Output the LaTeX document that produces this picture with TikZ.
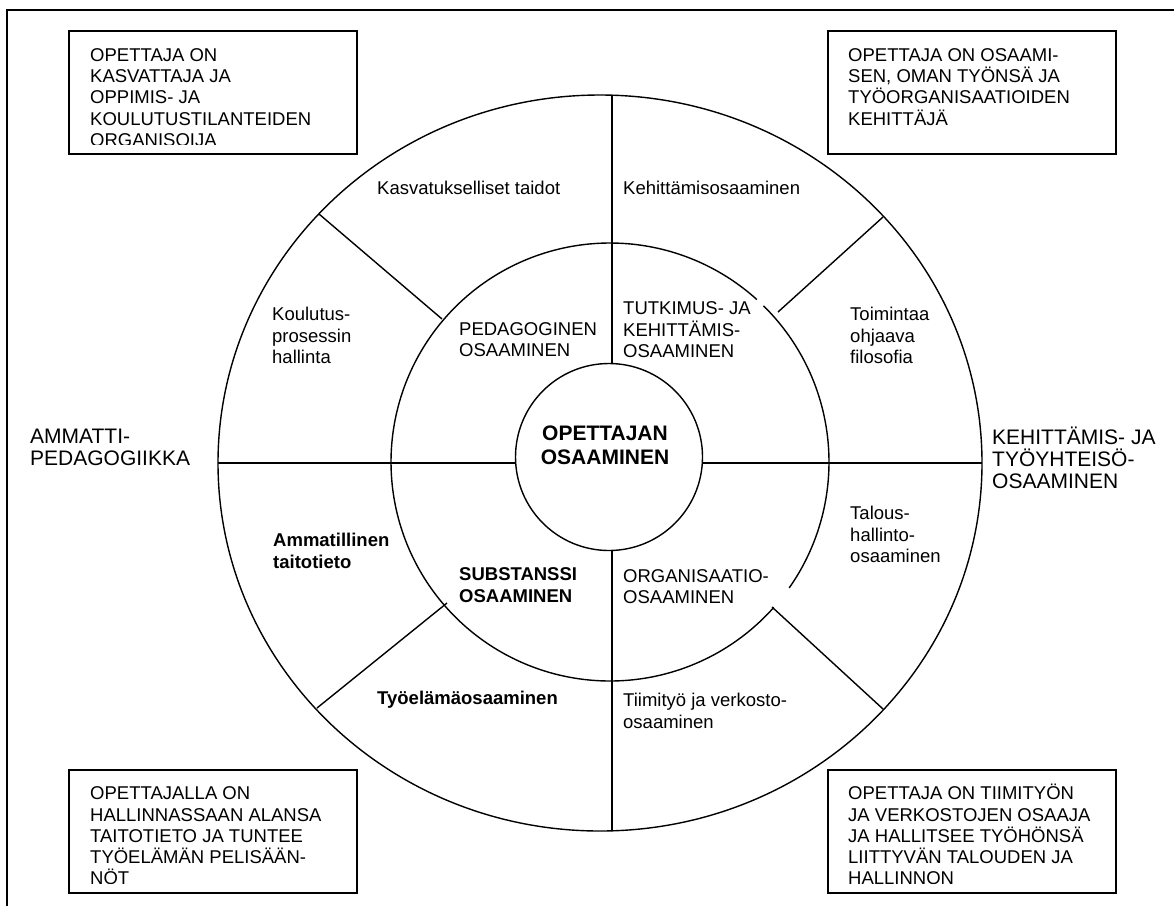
\documentclass[tikz,border=0pt]{standalone}
\usepackage{fontspec}
\setmainfont{Liberation Sans}
\begin{document}
\begin{tikzpicture}[x=1pt,y=-1pt]
\tikzset{
  ring/.style={line width=1.4pt},
  frameline/.style={line width=2pt},
  infobox/.style={draw, line width=2pt, minimum width=288pt, minimum height=123pt, inner sep=0pt},
  txt/.style={anchor=north west, inner sep=0pt, align=left, font=\fontsize{18.5}{21.3}\selectfont},
  btxt/.style={txt, font=\fontsize{18.5}{21.3}\selectfont\bfseries},
  sidetxt/.style={txt, font=\fontsize{21}{22.2}\selectfont},
}
\newcommand\firstline{\rule{0pt}{20pt}}
\useasboundingbox (0,0) rectangle (1174,906);
% page frame (top and left edges)
\draw[frameline] (1174,10) -- (7,10) -- (7,906);

% corner boxes
\node[infobox] (boxtl) at (213,92.5) {};
\node[infobox] (boxtr) at (971.5,92.5) {};
\node[infobox] (boxbl) at (213,831) {};
\node[infobox] (boxbr) at (971.5,831) {};
\begin{scope}
  \clip (69,31) rectangle (357,144);
  \node[txt] (ttl) at (90,40.9) {\firstline OPETTAJA ON\\KASVATTAJA JA\\OPPIMIS- JA\\KOULUTUSTILANTEIDEN\\ORGANISOIJA};
\end{scope}
\begin{scope}
  \clip (828,31) rectangle (1115,144);
  \node[txt] (ttr) at (848,40.9) {\firstline OPETTAJA ON OSAAMI-\\SEN, OMAN TYÖNSÄ JA\\TYÖORGANISAATIOIDEN\\KEHITTÄJÄ};
\end{scope}
\begin{scope}
  \clip (69,769) rectangle (357,883);
  \node[txt] (tbl) at (90,779.5) {\firstline OPETTAJALLA ON\\HALLINNASSAAN ALANSA\\TAITOTIETO JA TUNTEE\\TYÖELÄMÄN PELISÄÄN-\\NÖT};
\end{scope}
\begin{scope}
  \clip (828,769) rectangle (1115,883);
  \node[txt] (tbr) at (848,779.5) {\firstline OPETTAJA ON TIIMITYÖN\\JA VERKOSTOJEN OSAAJA\\JA HALLITSEE TYÖHÖNSÄ\\LIITTYVÄN TALOUDEN JA\\HALLINNON};
\end{scope}

% outer ring
\draw[ring] (600,463) ellipse [x radius=382, y radius=368];
% middle ring, drawn in two arcs with small openings
\draw[ring] plot[domain=-45.5:35.1, samples=80] ({610+219*cos(\x)},{462+219*sin(\x)});
\draw[ring] plot[domain=41.6:312.1, samples=240] ({610+219*cos(\x)},{462+219*sin(\x)});
% core circle
\node[circle, draw, ring, minimum size=187pt, inner sep=0pt] (core) at (609,457) {};

% spokes
\coordinate (vtop) at (612,95);
\coordinate (vbot) at (612,831);
\coordinate (hl) at (218,463);
\coordinate (hr) at (982,463);
\draw[ring] (vtop) -- (core.north -| vtop);
\draw[ring] (core.south -| vbot) -- (vbot);
\draw[ring] (hl) -- (core.west |- hl);
\draw[ring] (core.east |- hr) -- (hr);
\coordinate (ula) at (319,214); \coordinate (ulb) at (442,319);
\coordinate (ura) at (883,217); \coordinate (urb) at (778,312);
\coordinate (lla) at (317,708); \coordinate (llb) at (447,603);
\coordinate (lra) at (883,709); \coordinate (lrb) at (772,607);
\draw[ring] (ula) -- (ulb);
\draw[ring] (ura) -- (urb);
\draw[ring] (lla) -- (llb);
\draw[ring] (lra) -- (lrb);

% core label
\node[anchor=north, inner sep=0pt, align=center, font=\fontsize{21}{24}\selectfont\bfseries] (coretxt) at (605,420.5) {\firstline OPETTAJAN\\OSAAMINEN};

% middle ring labels
\node[txt] (ped) at (459,315) {\firstline PEDAGOGINEN\\OSAAMINEN};
\node[txt] (tut) at (623,294.6) {\firstline TUTKIMUS- JA\\KEHITTÄMIS-\\OSAAMINEN};
\node[btxt] (sub) at (459,560.6) {\firstline SUBSTANSSI\\OSAAMINEN};
\node[txt] (org) at (623,562) {\firstline ORGANISAATIO-\\OSAAMINEN};

% outer ring labels
\node[txt] (kas) at (377,174.6) {\firstline Kasvatukselliset taidot};
\node[txt] (keh) at (623,174.6) {\firstline Kehittämisosaaminen};
\node[txt] (kou) at (272,300.6) {\firstline Koulutus-\\prosessin\\hallinta};
\node[txt] (toi) at (850,300.6) {\firstline Toimintaa\\ohjaava\\filosofia};
\node[btxt] (amm) at (273,526.6) {\firstline Ammatillinen\\taitotieto};
\node[txt] (tal) at (850,499.6) {\firstline Talous-\\hallinto-\\osaaminen};
\node[btxt] (tyo) at (377,684.6) {\firstline Työelämäosaaminen};
\node[txt] (tii) at (623,686.6) {\firstline Tiimityö ja verkosto-\\osaaminen};

% side labels
\node[sidetxt] (ap) at (30,423.5) {\firstline AMMATTI-\\PEDAGOGIIKKA};
\node[sidetxt] (kt) at (992,424.2) {\firstline KEHITTÄMIS- JA\\TYÖYHTEISÖ-\\OSAAMINEN};
\end{tikzpicture}
\end{document}
